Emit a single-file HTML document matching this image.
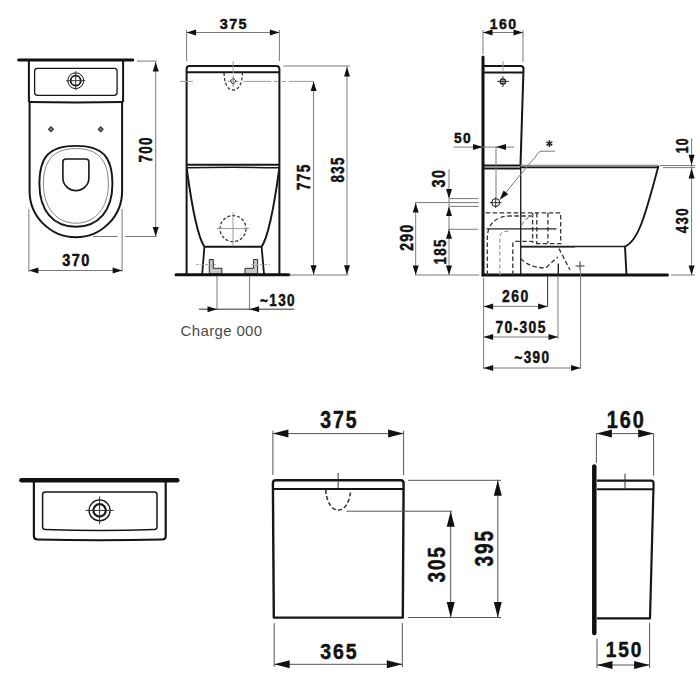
<!DOCTYPE html>
<html><head><meta charset="utf-8"><style>
html,body{margin:0;padding:0;background:#fff;width:700px;height:700px;overflow:hidden}
svg{display:block}
.o{fill:none;stroke:#161616;stroke-width:2;stroke-linejoin:round}
.o25{fill:none;stroke:#161616;stroke-width:2.4}
.rimg{fill:none;stroke:#8a8a8a;stroke-width:1.6}
.o16{fill:none;stroke:#161616;stroke-width:1.7}
.o2{fill:none;stroke:#222;stroke-width:1.4}
.t{fill:none;stroke:#7a7a7a;stroke-width:1}
.tg{fill:none;stroke:#9a9a9a;stroke-width:1}
.tb{fill:none;stroke:#555;stroke-width:1}
.tk{fill:none;stroke:#333;stroke-width:1}
.cl{fill:none;stroke:#999;stroke-width:1;stroke-dasharray:8 3 2 3}
.cl2{fill:none;stroke:#aaa;stroke-width:1;stroke-dasharray:3 1.5}
.d2{fill:none;stroke:#333;stroke-width:1.3;stroke-dasharray:4.5 2.5}
.d3{fill:none;stroke:#999;stroke-width:1.2;stroke-dasharray:4 2.5}
.d{fill:none;stroke:#333;stroke-width:1.3;stroke-dasharray:3 2}
.bar3{stroke:#111;stroke-width:3;stroke-linecap:round}
.bar4{stroke:#111;stroke-width:4.5;stroke-linecap:round}
.wall{stroke:#111;stroke-width:3;stroke-linecap:round}
.n{letter-spacing:10px;stroke:#111;stroke-width:0.45px;vector-effect:non-scaling-stroke;font-family:"Liberation Sans",sans-serif;font-weight:bold;font-size:100px;fill:#111}
.c{font-family:"Liberation Sans",sans-serif;font-size:15px;letter-spacing:0.35px;fill:#4a4a4a}
</style></head><body>
<svg width="700" height="700" viewBox="0 0 700 700">
<line x1="18.6" y1="60" x2="132.8" y2="60" class="bar3"/>
<path d="M28.9,61 V102.1 M123.1,61 V102.1" class="o" />
<path d="M28.9,102.1 Q76,103 123.1,102.1" class="o" />
<rect x="34.6" y="68.3" width="82.5" height="27.1" rx="2.8" class="o" style="stroke-width:1.3"/>
<circle cx="75.7" cy="80.7" r="7.9" class="o" style="stroke-width:1"/>
<circle cx="75.7" cy="80.7" r="5.0" class="o" style="stroke-width:1.8"/>
<line x1="66.2" y1="80.7" x2="85.2" y2="80.7" class="tk"/>
<line x1="75.7" y1="71.2" x2="75.7" y2="90.2" class="tk"/>
<path d="M29.6,102 V190.9 A46.25,46.3 0 0 0 122.1,190.9 V102" class="o" />
<polygon points="51,126.1 54.2,129.3 51,132.5 47.8,129.3" fill="#333"/>
<circle cx="51" cy="129.3" r="1" fill="#aaa"/>
<polygon points="100.7,126.1 103.9,129.3 100.7,132.5 97.5,129.3" fill="#333"/>
<circle cx="100.7" cy="129.3" r="1" fill="#aaa"/>
<path d="M75.9,145.9 C103.28,145.9 112.4,157.33 112.4,184 C112.4,210.47 98.53,226.7 75.9,226.7 C53.27,226.7 39.4,210.47 39.4,184 C39.4,157.33 48.53,145.9 75.9,145.9 Z" class="o" style="stroke-width:1.9"/>
<path d="M75.9,148.6 C98.65,148.6 108.4,160.99 108.4,184 C108.4,207.52 95.40,223.2 75.9,223.2 C56.40,223.2 43.4,207.52 43.4,184 C43.4,160.99 53.15,148.6 75.9,148.6 Z" class="tg" style="stroke:#777;stroke-width:0.9"/>
<path d="M62.9,162 Q62.9,159 65.9,159 H85.9 Q88.9,159 88.9,162 V178 A13,12.6 0 0 1 62.9,178 Z" class="o" style="stroke-width:1.6"/>
<line x1="137" y1="61.1" x2="157.1" y2="61.1" class="t"/>
<line x1="155.7" y1="62" x2="155.7" y2="236.5" class="t"/>
<polygon points="155.70,62.00 158.70,71.50 152.70,71.50" fill="#111"/>
<polygon points="155.70,236.50 152.70,227.00 158.70,227.00" fill="#111"/>
<line x1="93" y1="236.5" x2="117.5" y2="236.5" class="t"/>
<line x1="125" y1="236.5" x2="156.5" y2="236.5" class="t"/>
<text transform="translate(152.12 162.58) rotate(-90) scale(0.1345 0.1822)" class="n">700</text>
<line x1="28.9" y1="209" x2="28.9" y2="272" class="t"/>
<line x1="122.1" y1="209" x2="122.1" y2="272" class="t"/>
<line x1="28.9" y1="270.5" x2="122.1" y2="270.5" class="t"/>
<polygon points="28.90,270.50 38.40,267.50 38.40,273.50" fill="#111"/>
<polygon points="122.10,270.50 112.60,273.50 112.60,267.50" fill="#111"/>
<text transform="translate(62.17 266.06) scale(0.1455 0.1656)" class="n">370</text>
<path d="M186.6,274 V69 Q186.6,66 189.6,66 H276.4 Q279.4,66 279.4,69 V274" class="o" />
<line x1="186.6" y1="72.3" x2="279.4" y2="72.3" class="o"/>
<line x1="186.6" y1="164.7" x2="279.4" y2="164.7" class="o"/>
<path d="M186.6,167.8 Q233,166.8 279.4,167.8" class="o" style="stroke-width:1.5"/>
<path d="M186.8,169 C191,200 197,236 204.4,246.7 M279.2,169 C275,200 269,236 261.6,246.7" class="o" style="stroke-width:1.9"/>
<line x1="204.4" y1="246.7" x2="261.6" y2="246.7" class="o"/>
<path d="M204.4,246.7 L202.2,274 M261.6,246.7 L264,274" class="o" style="stroke-width:1.8"/>
<line x1="176" y1="274.7" x2="289" y2="274.7" class="bar3"/>
<circle cx="233" cy="228.6" r="13" class="d"/>
<line x1="217" y1="228.6" x2="249.2" y2="228.6" class="tg"/>
<line x1="233" y1="212.4" x2="233" y2="245.4" class="tg"/>
<line x1="180" y1="81.4" x2="193" y2="81.4" class="tg"/>
<line x1="243.4" y1="81.4" x2="271" y2="81.4" class="tg"/>
<line x1="273.5" y1="81.4" x2="278" y2="81.4" class="tg"/>
<line x1="282" y1="81.4" x2="286" y2="81.4" class="tg"/>
<line x1="289" y1="81.4" x2="314" y2="81.4" class="tg"/>
<line x1="233.2" y1="61" x2="233.2" y2="73" class="tg"/>
<line x1="227.5" y1="81.2" x2="238.9" y2="81.2" class="tg"/>
<line x1="233.2" y1="75.5" x2="233.2" y2="87" class="tg"/>
<polygon points="233.2,78.2 236.2,81.2 233.2,84.2 230.2,81.2" fill="none" stroke="#333" stroke-width="1"/>
<path d="M224.1,73 C224.1,80 226,90 233.2,90 C240.4,90 242.4,80 242.4,73" class="d" />
<path d="M209.3,259.5 H213.3 V268.3 H221.9 V273.5 H209.3 Z" fill="#c8c8c8" stroke="#2a2a2a" stroke-width="1"/>
<path d="M257.6,259.5 H253.6 V268.3 H245 V273.5 H257.6 Z" fill="#c8c8c8" stroke="#2a2a2a" stroke-width="1"/>
<line x1="196" y1="264.6" x2="216" y2="264.6" class="cl2"/>
<line x1="251" y1="264.6" x2="270" y2="264.6" class="cl2"/>
<line x1="186.6" y1="30" x2="186.6" y2="61" class="t"/>
<line x1="279.4" y1="30" x2="279.4" y2="61" class="t"/>
<line x1="186.6" y1="32.5" x2="279.4" y2="32.5" class="t"/>
<polygon points="186.60,32.50 196.10,29.50 196.10,35.50" fill="#111"/>
<polygon points="279.40,32.50 269.90,35.50 269.90,29.50" fill="#111"/>
<text transform="translate(219.67 28.58) scale(0.1444 0.1515)" class="n">375</text>
<line x1="283.5" y1="66" x2="350" y2="66" class="t"/>
<line x1="289" y1="275" x2="348.5" y2="275" class="t"/>
<line x1="313.6" y1="81.4" x2="313.6" y2="274.7" class="t"/>
<polygon points="313.60,81.40 316.60,90.90 310.60,90.90" fill="#111"/>
<polygon points="313.60,274.70 310.60,265.20 316.60,265.20" fill="#111"/>
<line x1="347" y1="66" x2="347" y2="274.7" class="t"/>
<polygon points="347.00,67.00 350.00,76.50 344.00,76.50" fill="#111"/>
<polygon points="347.00,274.70 344.00,265.20 350.00,265.20" fill="#111"/>
<text transform="translate(309.83 190.29) rotate(-90) scale(0.1374 0.1777)" class="n">775</text>
<text transform="translate(343.60 182.42) rotate(-90) scale(0.1327 0.1748)" class="n">835</text>
<line x1="217" y1="276" x2="217" y2="310" class="t"/>
<line x1="249.6" y1="276" x2="249.6" y2="310" class="t"/>
<line x1="198.8" y1="309.2" x2="294.4" y2="309.2" class="tk"/>
<polygon points="217.00,309.20 207.50,312.20 207.50,306.20" fill="#111"/>
<polygon points="249.60,309.20 259.10,306.20 259.10,312.20" fill="#111"/>
<text transform="translate(260.07 305.81) scale(0.1351 0.1705)" class="n">~130</text>
<text x="180.6" y="335.6" class="c">Charge 000</text>
<line x1="483" y1="57" x2="483" y2="275" class="wall"/>
<path d="M483,66.1 H520.8 Q523.5,66.1 523.5,68.8 L520.5,165.4" class="o" />
<line x1="483" y1="72.5" x2="523.5" y2="72.5" class="o"/>
<line x1="483" y1="165.4" x2="520.5" y2="165.4" class="o"/>
<line x1="483" y1="168.6" x2="520.5" y2="168.6" class="o"/>
<line x1="520.5" y1="165.5" x2="658.5" y2="165.5" class="rimg"/>
<line x1="520.5" y1="167.4" x2="658" y2="167.4" class="o16"/>
<path d="M658.5,166 C654,182 648,206 642,222 C638,233 633,243 625,246.5 L626.5,275" class="o" style="stroke-width:1.9"/>
<line x1="520.7" y1="246.5" x2="625" y2="246.5" class="o2"/>
<line x1="520.7" y1="166" x2="520.7" y2="275" class="o2"/>
<line x1="483" y1="275" x2="667.5" y2="275" class="bar3"/>
<circle cx="495.7" cy="202.6" r="4" class="o" style="stroke-width:1"/>
<line x1="490" y1="202.6" x2="501.5" y2="202.6" class="tk"/>
<line x1="495.7" y1="197" x2="495.7" y2="208" class="tk"/>
<line x1="496" y1="147" x2="496" y2="198" class="t"/>
<line x1="540" y1="151.2" x2="555" y2="151.2" class="t"/>
<line x1="540" y1="151.2" x2="502" y2="197" class="t"/>
<polygon points="499.50,200.00 503.56,190.38 508.18,194.20" fill="#111"/>
<line x1="549.40" y1="140.20" x2="549.40" y2="147.00" stroke="#222" stroke-width="1.5"/>
<line x1="546.46" y1="141.90" x2="552.34" y2="145.30" stroke="#222" stroke-width="1.5"/>
<line x1="552.34" y1="141.90" x2="546.46" y2="145.30" stroke="#222" stroke-width="1.5"/>
<circle cx="502.9" cy="81.4" r="2.6" class="o" style="stroke-width:1.3"/>
<line x1="502.9" y1="61" x2="502.9" y2="72" class="tg"/>
<line x1="497" y1="81.4" x2="509" y2="81.4" class="tk"/>
<line x1="502.9" y1="76" x2="502.9" y2="87" class="tk"/>
<line x1="483" y1="30" x2="483" y2="54" class="t"/>
<line x1="523" y1="30" x2="523" y2="62" class="t"/>
<line x1="483" y1="32.5" x2="523" y2="32.5" class="t"/>
<polygon points="483.00,32.50 492.50,29.50 492.50,35.50" fill="#111"/>
<polygon points="523.00,32.50 513.50,35.50 513.50,29.50" fill="#111"/>
<text transform="translate(489.87 28.85) scale(0.1403 0.1554)" class="n">160</text>
<line x1="453.6" y1="147.1" x2="514" y2="147.1" class="t"/>
<polygon points="483.00,147.10 473.00,150.10 473.00,144.10" fill="#111"/>
<polygon points="496.00,147.10 506.00,144.10 506.00,150.10" fill="#111"/>
<text transform="translate(453.88 142.95) scale(0.1377 0.1554)" class="n">50</text>
<line x1="449" y1="169.3" x2="449" y2="275" class="t"/>
<polygon points="449.00,198.60 446.00,189.10 452.00,189.10" fill="#111"/>
<polygon points="449.00,206.40 452.00,215.90 446.00,215.90" fill="#111"/>
<polygon points="449.00,229.30 452.00,238.80 446.00,238.80" fill="#111"/>
<polygon points="449.00,275.00 446.00,265.50 452.00,265.50" fill="#111"/>
<line x1="450" y1="198.6" x2="478.6" y2="198.6" class="t"/>
<line x1="415" y1="202.6" x2="478.6" y2="202.6" class="t"/>
<line x1="450" y1="206.4" x2="478.6" y2="206.4" class="t"/>
<line x1="447.9" y1="229.3" x2="477.9" y2="229.3" class="t"/>
<line x1="415" y1="275" x2="479.3" y2="275" class="t"/>
<line x1="415.7" y1="202.6" x2="415.7" y2="275" class="t"/>
<polygon points="415.70,202.90 418.70,212.40 412.70,212.40" fill="#111"/>
<polygon points="415.70,275.00 412.70,265.50 418.70,265.50" fill="#111"/>
<text transform="translate(445.10 187.43) rotate(-90) scale(0.1428 0.1748)" class="n">30</text>
<text transform="translate(412.72 250.78) rotate(-90) scale(0.1389 0.1822)" class="n">290</text>
<text transform="translate(445.53 264.44) rotate(-90) scale(0.1328 0.1709)" class="n">185</text>
<path d="M485.7,212.9 H560.7 V243.6 H536" class="d2" />
<path d="M532.6,213 V243 M536.8,213 V243 M547.9,213 V243" class="d2" />
<line x1="486.4" y1="228.9" x2="556.4" y2="228.9" class="o2"/>
<line x1="520.7" y1="246.9" x2="575" y2="246.9" class="o2"/>
<path d="M487.3,275 V238 C487.3,224 496,216 510,216 H535" class="d2" />
<path d="M499.8,275 V238 C499.8,234 502,231.3 506,231.3 H509" class="d3" />
<path d="M521.8,225.4 C524,220 528,216.5 534,215.2" class="d3" />
<path d="M512.8,275 V244 Q512.8,241.4 515.4,241.4 H532.6" class="d2" />
<path d="M520.7,258.6 Q530,268 545.7,267.9 L557.9,257" class="d2" />
<path d="M559,248.6 L570,270" class="d2" />
<line x1="558.3" y1="263.6" x2="558.3" y2="275" class="o2"/>
<line x1="660" y1="165.5" x2="695" y2="165.5" class="t"/>
<line x1="663" y1="167.6" x2="695" y2="167.6" class="t"/>
<line x1="671" y1="275" x2="695" y2="275" class="t"/>
<line x1="691.6" y1="138.5" x2="691.6" y2="275" class="t"/>
<polygon points="691.60,165.20 688.60,154.70 694.60,154.70" fill="#111"/>
<polygon points="691.60,167.90 694.60,178.40 688.60,178.40" fill="#111"/>
<polygon points="691.60,275.00 688.60,265.50 694.60,265.50" fill="#111"/>
<text transform="translate(687.83 153.27) rotate(-90) scale(0.1218 0.1695)" class="n">10</text>
<text transform="translate(687.81 233.20) rotate(-90) scale(0.1324 0.1691)" class="n">430</text>
<line x1="575.5" y1="266" x2="584.5" y2="266" class="tk"/>
<line x1="580" y1="261.5" x2="580" y2="270.5" class="tk"/>
<line x1="483.6" y1="278" x2="483.6" y2="369" class="t"/>
<line x1="547.6" y1="276" x2="547.6" y2="307" class="tk"/>
<line x1="558" y1="276" x2="558" y2="339" class="t"/>
<line x1="580.6" y1="270" x2="580.6" y2="369" class="t"/>
<line x1="483.6" y1="306.4" x2="547.6" y2="306.4" class="t"/>
<polygon points="483.60,306.40 493.10,303.40 493.10,309.40" fill="#111"/>
<polygon points="547.60,306.40 538.10,309.40 538.10,303.40" fill="#111"/>
<line x1="483.6" y1="337" x2="558" y2="337" class="t"/>
<polygon points="483.60,337.00 493.10,334.00 493.10,340.00" fill="#111"/>
<polygon points="558.00,337.00 548.50,340.00 548.50,334.00" fill="#111"/>
<line x1="483.6" y1="368" x2="580.6" y2="368" class="t"/>
<polygon points="483.60,368.00 493.10,365.00 493.10,371.00" fill="#111"/>
<polygon points="580.60,368.00 571.10,371.00 571.10,365.00" fill="#111"/>
<text transform="translate(502.12 302.24) scale(0.1394 0.1610)" class="n">260</text>
<text transform="translate(495.41 332.82) scale(0.1383 0.1607)" class="n">70-305</text>
<text transform="translate(514.47 363.42) scale(0.1351 0.1635)" class="n">~390</text>
<line x1="21.4" y1="480.3" x2="177.3" y2="480.3" class="bar4"/>
<path d="M33.9,482 V536 Q33.9,539.5 37.5,539.5 Q99.8,541 162,539.5 Q165.7,539.5 165.7,536 V482" class="o" style="stroke-width:2.2"/>
<path d="M45.2,492.1 H154.4 Q157,492.1 157,494.7 V527 Q157,529.3 154.6,529.4 Q99.8,531.5 45,529.4 Q42.6,529.3 42.6,527 V494.7 Q42.6,492.1 45.2,492.1 Z" class="o" style="stroke-width:1.5"/>
<circle cx="99.6" cy="510.4" r="10.5" class="o" style="stroke-width:1.3"/>
<circle cx="99.6" cy="510.4" r="6.2" class="o" style="stroke-width:2.2"/>
<line x1="85.6" y1="510.4" x2="113.6" y2="510.4" class="tk"/>
<line x1="99.6" y1="496.4" x2="99.6" y2="524.4" class="tk"/>
<path d="M273.8,617.6 L272.9,483.3 Q272.9,480.3 275.9,480.3 H400.6 Q403.6,480.3 403.6,483.3 L402.8,617.6 Z" class="o" style="stroke-width:2.4"/>
<line x1="272.9" y1="488.9" x2="403.6" y2="488.9" class="o"/>
<path d="M325.7,489.5 C327.5,517 349,517 350.7,489.5" class="d" style="stroke-width:1.6;stroke-dasharray:4 2.5"/>
<line x1="338.1" y1="472.9" x2="338.1" y2="488" class="tk"/>
<line x1="346.4" y1="511.2" x2="452" y2="511.2" class="tb"/>
<line x1="408" y1="480.3" x2="501" y2="480.3" class="tb"/>
<line x1="408" y1="617.5" x2="501" y2="617.5" class="tb"/>
<line x1="272.9" y1="430.7" x2="272.9" y2="475" class="tb"/>
<line x1="403.6" y1="430.7" x2="403.6" y2="475" class="tb"/>
<line x1="272.9" y1="433.6" x2="403.6" y2="433.6" class="tb"/>
<polygon points="272.90,433.60 288.40,429.60 288.40,437.60" fill="#111"/>
<polygon points="403.60,433.60 388.10,437.60 388.10,429.60" fill="#111"/>
<text transform="translate(320.25 427.64) scale(0.1942 0.2326)" class="n">375</text>
<line x1="274.2" y1="623" x2="274.2" y2="667" class="tb"/>
<line x1="402.3" y1="623" x2="402.3" y2="667" class="tb"/>
<line x1="274.2" y1="664.3" x2="402.3" y2="664.3" class="tb"/>
<polygon points="274.20,664.30 289.70,660.30 289.70,668.30" fill="#111"/>
<polygon points="402.30,664.30 386.80,668.30 386.80,660.30" fill="#111"/>
<text transform="translate(320.15 658.75) scale(0.1948 0.2255)" class="n">365</text>
<line x1="450.7" y1="511.2" x2="450.7" y2="617.5" class="tb"/>
<polygon points="450.70,511.20 454.70,526.70 446.70,526.70" fill="#111"/>
<polygon points="450.70,617.50 446.70,602.00 454.70,602.00" fill="#111"/>
<line x1="497.8" y1="480.3" x2="497.8" y2="617.5" class="tb"/>
<polygon points="497.80,480.30 501.80,495.80 493.80,495.80" fill="#111"/>
<polygon points="497.80,617.50 493.80,602.00 501.80,602.00" fill="#111"/>
<text transform="translate(445.43 582.43) rotate(-90) scale(0.1887 0.2410)" class="n">305</text>
<text transform="translate(493.02 566.44) rotate(-90) scale(0.1909 0.2523)" class="n">395</text>
<line x1="594.3" y1="466.4" x2="594.3" y2="632.9" class="bar4"/>
<path d="M597,480.7 H651 Q653.6,480.7 653.6,483.5 L650,618.3 H597" class="o" style="stroke-width:2.2"/>
<line x1="597" y1="489.3" x2="653.6" y2="489.3" class="o"/>
<line x1="625" y1="473.6" x2="625" y2="489" class="tk"/>
<line x1="596.4" y1="433.6" x2="596.4" y2="462.9" class="tb"/>
<line x1="653.6" y1="433.6" x2="653.6" y2="475.7" class="tb"/>
<line x1="596.4" y1="433.6" x2="653.6" y2="433.6" class="tb"/>
<polygon points="596.40,433.60 611.90,429.60 611.90,437.60" fill="#111"/>
<polygon points="653.60,433.60 638.10,437.60 638.10,429.60" fill="#111"/>
<text transform="translate(606.65 427.67) scale(0.1984 0.2330)" class="n">160</text>
<line x1="597" y1="638.6" x2="597" y2="668" class="tb"/>
<line x1="649.6" y1="622.9" x2="649.6" y2="668" class="tb"/>
<line x1="597" y1="665" x2="649.6" y2="665" class="tb"/>
<polygon points="597.00,665.00 612.50,661.00 612.50,669.00" fill="#111"/>
<polygon points="649.60,665.00 634.10,669.00 634.10,661.00" fill="#111"/>
<text transform="translate(605.80 656.88) scale(0.1910 0.2274)" class="n">150</text>
</svg>
</body></html>
